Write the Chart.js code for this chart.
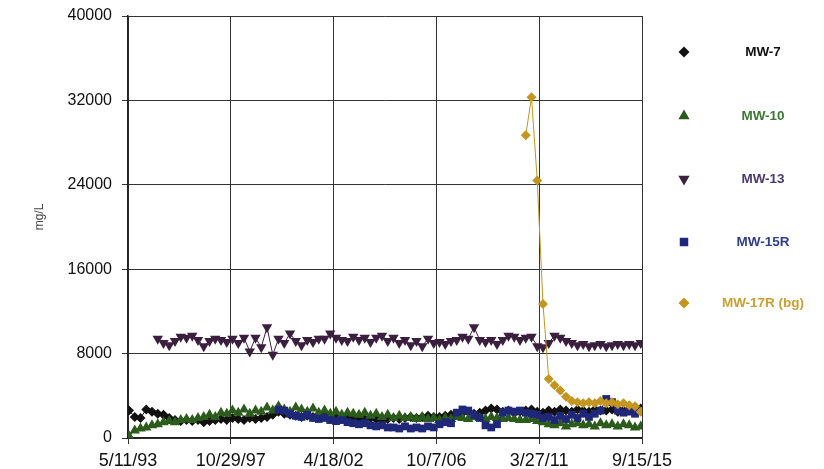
<!DOCTYPE html>
<html><head><meta charset="utf-8">
<script src="https://cdn.jsdelivr.net/npm/chart.js@4.4.1/dist/chart.umd.min.js"></script>
<style>html,body{margin:0;padding:0;background:#fff;}canvas{display:block;}</style>
</head><body>
<canvas id="c" width="824" height="469"></canvas>
<script>
const tickLabels = ['5/11/93','10/29/97','4/18/02','10/7/06','3/27/11','9/15/15'];
const yTickValues = [0, 8000, 16000, 24000, 32000, 40000];
const seriesNames = ['MW-7','MW-10','MW-13','MW-15R','MW-17R (bg)'];
const yAxisTitle = 'mg/L';

const sampleDates = [
  1993.40,1993.65,1993.90,1994.15,1994.40,1994.65,1994.90,1995.15,1995.40,1995.65,
  1995.90,1996.15,1996.40,1996.65,1996.90,1997.15,1997.40,1997.65,1997.90,1998.15,
  1998.40,1998.65,1998.90,1999.15,1999.40,1999.65,1999.90,2000.15,2000.40,2000.65,
  2000.90,2001.15,2001.40,2001.65,2001.90,2002.15,2002.40,2002.65,2002.90,2003.15,
  2003.40,2003.65,2003.90,2004.15,2004.40,2004.65,2004.90,2005.15,2005.40,2005.65,
  2005.90,2006.15,2006.40,2006.65,2006.90,2007.15,2007.40,2007.65,2007.90,2008.15,
  2008.40,2008.65,2008.90,2009.15,2009.40,2009.65,2009.90,2010.15,2010.40,2010.65,
  2010.90,2011.15,2011.40,2011.65,2011.90,2012.15,2012.40,2012.65,2012.90,2013.15,
  2013.40,2013.65,2013.90,2014.15,2014.40,2014.65,2014.90,2015.15,2015.40,2015.65
];

const mw7 = [
  2600,2000,1900,2700,2500,2300,2200,1900,1700,1600,
  1700,1600,1700,1500,1600,1700,1800,1700,1900,1800,
  1700,1900,1800,1900,2000,2200,2500,2300,2200,2100,
  2000,2100,2000,2200,2100,1900,2000,1900,2000,1800,
  1900,1800,1900,1800,1700,1800,1900,1800,1900,2000,
  1900,2000,2100,2000,2000,2100,2200,2300,2400,2500,
  2300,2400,2600,2800,2700,2500,2600,2400,2500,2600,
  2700,2500,2400,2600,2500,2700,2600,2500,2700,2600,
  2500,2700,2600,2600,2700,2500,2600,2700,2800,2800
];
const mw10 = [
  200,700,900,1000,1200,1300,1500,1600,1500,1700,
  1800,1700,1900,2000,2200,2000,2400,2300,2600,2400,
  2700,2300,2600,2500,2900,2600,3000,2700,2500,2900,
  2700,2500,2800,2400,2600,2300,2500,2200,2400,2300,
  2200,2400,2100,2300,2000,2200,1900,2100,1900,2000,
  1800,2000,1800,1900,1700,1900,1800,2000,1900,1800,
  2000,1900,1800,2000,1900,1800,1900,1800,1700,1700,
  1800,1600,1500,1300,1200,1400,1100,1300,1400,1200,
  1300,1100,1400,1200,1300,1100,1300,1200,1000,1100
];
const mw13 = [
  null,null,null,null,null,9400,9000,8800,9200,9600,
  9500,9700,9300,8700,9200,9400,9300,9100,9400,9000,
  9500,8200,9500,8600,10500,7900,9400,9000,9900,9200,
  8800,9300,9100,9400,9400,9900,9500,9300,9200,9600,
  9300,9500,9100,9500,9700,9200,9500,9000,9300,8800,
  9200,8700,9400,9000,9100,8900,9200,9300,9600,9400,
  10500,9300,9100,9300,8900,9300,9700,9600,9300,9500,
  9600,8700,8600,9000,9700,9500,9200,9000,8800,8900,
  8700,8800,8900,8700,8800,8900,8800,8900,8800,9000
];
const mw15r = [
  null,null,null,null,null,null,null,null,null,null,
  null,null,null,null,null,null,null,null,null,null,
  null,null,null,null,null,null,2700,2600,2300,2100,
  2000,2200,1900,1800,1900,1700,1600,1700,1500,1400,
  1300,1400,1200,1100,1200,1000,1000,900,1100,900,
  1000,900,1100,1000,1300,1500,1400,2400,2700,2600,
  2200,1900,1200,1000,1300,2400,2600,2500,2600,2400,
  2300,2200,1900,2000,1700,2100,1800,2200,1900,2300,
  2000,2300,2600,3700,3400,2600,2400,2500,2300,2600
];
const mw17r = [
  null,null,null,null,null,null,null,null,null,null,
  null,null,null,null,null,null,null,null,null,null,
  null,null,null,null,null,null,null,null,null,null,
  null,null,null,null,null,null,null,null,null,null,
  null,null,null,null,null,null,null,null,null,null,
  null,null,null,null,null,null,null,null,null,null,
  null,null,null,null,null,null,null,null,null,28700,
  32300,24400,12700,5600,5000,4500,3900,3500,3400,3300,
  3400,3300,3500,3300,3400,3200,3300,3100,3000,2500
];

function decYear(s){
  const [m,d,y] = s.split('/').map(Number);
  const yr = y < 50 ? 2000 + y : 1900 + y;
  const a = Date.UTC(yr,0,1), b = Date.UTC(yr+1,0,1);
  return yr + (Date.UTC(yr,m-1,d) - a) / (b - a);
}
const tickPos = tickLabels.map(decYear);

function pts(vals){
  const out = [];
  vals.forEach((v,i)=>{ if(v !== null) out.push({x: sampleDates[i], y: v}); });
  return out;
}

const styles = [
  {marker:'#111111', text:'#111111', point:'rectRot', rot:0, r:5},
  {marker:'#2c5c1c', text:'#3a7a34', point:'triangle', rot:0, r:6},
  {marker:'#3b1f3f', text:'#4b3a6e', point:'triangle', rot:180, r:6},
  {marker:'#1f2878', text:'#2f3f8f', point:'rect', rot:0, r:5.5},
  {marker:'#c4951f', text:'#c9a032', point:'rectRot', rot:0, r:5}
];
const seriesData = [mw7, mw10, mw13, mw15r, mw17r];

const datasets = seriesData.map((vals, k) => ({
  label: seriesNames[k],
  data: pts(vals),
  borderColor: styles[k].marker,
  backgroundColor: styles[k].marker,
  pointBackgroundColor: styles[k].marker,
  pointBorderColor: styles[k].marker,
  pointStyle: styles[k].point,
  pointRotation: styles[k].rot,
  pointRadius: styles[k].r,
  pointBorderWidth: 0,
  borderWidth: 1,
  order: 5 - k,
  tension: 0
}));

function drawMarker(ctx, style, x, y, r, color){
  ctx.save();
  ctx.fillStyle = color;
  ctx.beginPath();
  if (style === 'rectRot'){
    ctx.moveTo(x, y - r); ctx.lineTo(x + r, y); ctx.lineTo(x, y + r); ctx.lineTo(x - r, y);
  } else if (style === 'rect'){
    const s = r * Math.SQRT1_2;
    ctx.rect(x - s, y - s, 2*s, 2*s);
  } else if (style === 'triangleDown'){
    const w = r * Math.sqrt(3) / 2;
    ctx.moveTo(x - w, y - r/2); ctx.lineTo(x + w, y - r/2); ctx.lineTo(x, y + r);
  } else {
    const w = r * Math.sqrt(3) / 2;
    ctx.moveTo(x - w, y + r/2); ctx.lineTo(x + w, y + r/2); ctx.lineTo(x, y - r);
  }
  ctx.closePath();
  ctx.fill();
  ctx.restore();
}

const legendPlugin = {
  id: 'sideLegend',
  afterDraw(chart){
    const ctx = chart.ctx;
    const ys = [52, 116, 179, 242, 303];
    ctx.save();
    ctx.font = 'bold 13.5px "Liberation Sans", Arial, sans-serif';
    ctx.textAlign = 'center';
    ctx.textBaseline = 'middle';
    seriesNames.forEach((name, k) => {
      const st = styles[k];
      const ps = (st.point === 'triangle' && st.rot === 180) ? 'triangleDown' : st.point;
      drawMarker(ctx, ps, 684, ys[k], st.r + 0.5, st.marker);
      ctx.fillStyle = st.text;
      ctx.fillText(name, 763, ys[k]);
    });
    // y-axis title
    ctx.translate(40, 217);
    ctx.rotate(-Math.PI / 2);
    ctx.font = '12px "Liberation Sans", Arial, sans-serif';
    ctx.fillStyle = '#444';
    ctx.fillText(yAxisTitle, 0, 0);
    ctx.restore();
  }
};

new Chart(document.getElementById('c'), {
  type: 'line',
  data: { datasets },
  options: {
    responsive: false,
    animation: false,
    devicePixelRatio: 1,
    layout: { padding: { top: 16, right: 182, bottom: 0, left: 0 } },
    plugins: { legend: { display: false }, tooltip: { enabled: false } },
    scales: {
      x: {
        type: 'linear',
        min: tickPos[0],
        max: tickPos[tickPos.length - 1],
        afterBuildTicks(scale){ scale.ticks = tickPos.map(v => ({value: v})); },
        afterFit(scale){ scale.height = 31; scale.paddingLeft = 0; scale.paddingRight = 0; },
        ticks: {
          autoSkip: false,
          maxRotation: 0,
          padding: 6,
          color: '#111',
          font: { family: '"Liberation Sans", Arial, sans-serif', size: 18 },
          callback(value, index){ return tickLabels[index]; }
        },
        grid: { color: '#333', lineWidth: 1, tickLength: 6, drawTicks: true },
        border: { color: '#222', width: 1.5 }
      },
      y: {
        type: 'linear',
        min: yTickValues[0],
        max: yTickValues[yTickValues.length - 1],
        afterBuildTicks(scale){ scale.ticks = yTickValues.map(v => ({value: v})); },
        afterFit(scale){ scale.width = 128; scale.paddingTop = 0; scale.paddingBottom = 0; },
        ticks: {
          padding: 10,
          color: '#111',
          font: { family: '"Liberation Sans", Arial, sans-serif', size: 16 },
          callback(value){ return String(value); }
        },
        grid: { color: '#333', lineWidth: 1, tickLength: 6, drawTicks: true },
        border: { color: '#222', width: 1.5 },
        title: { display: false }
      }
    }
  },
  plugins: [legendPlugin]
});
</script>
</body></html>
